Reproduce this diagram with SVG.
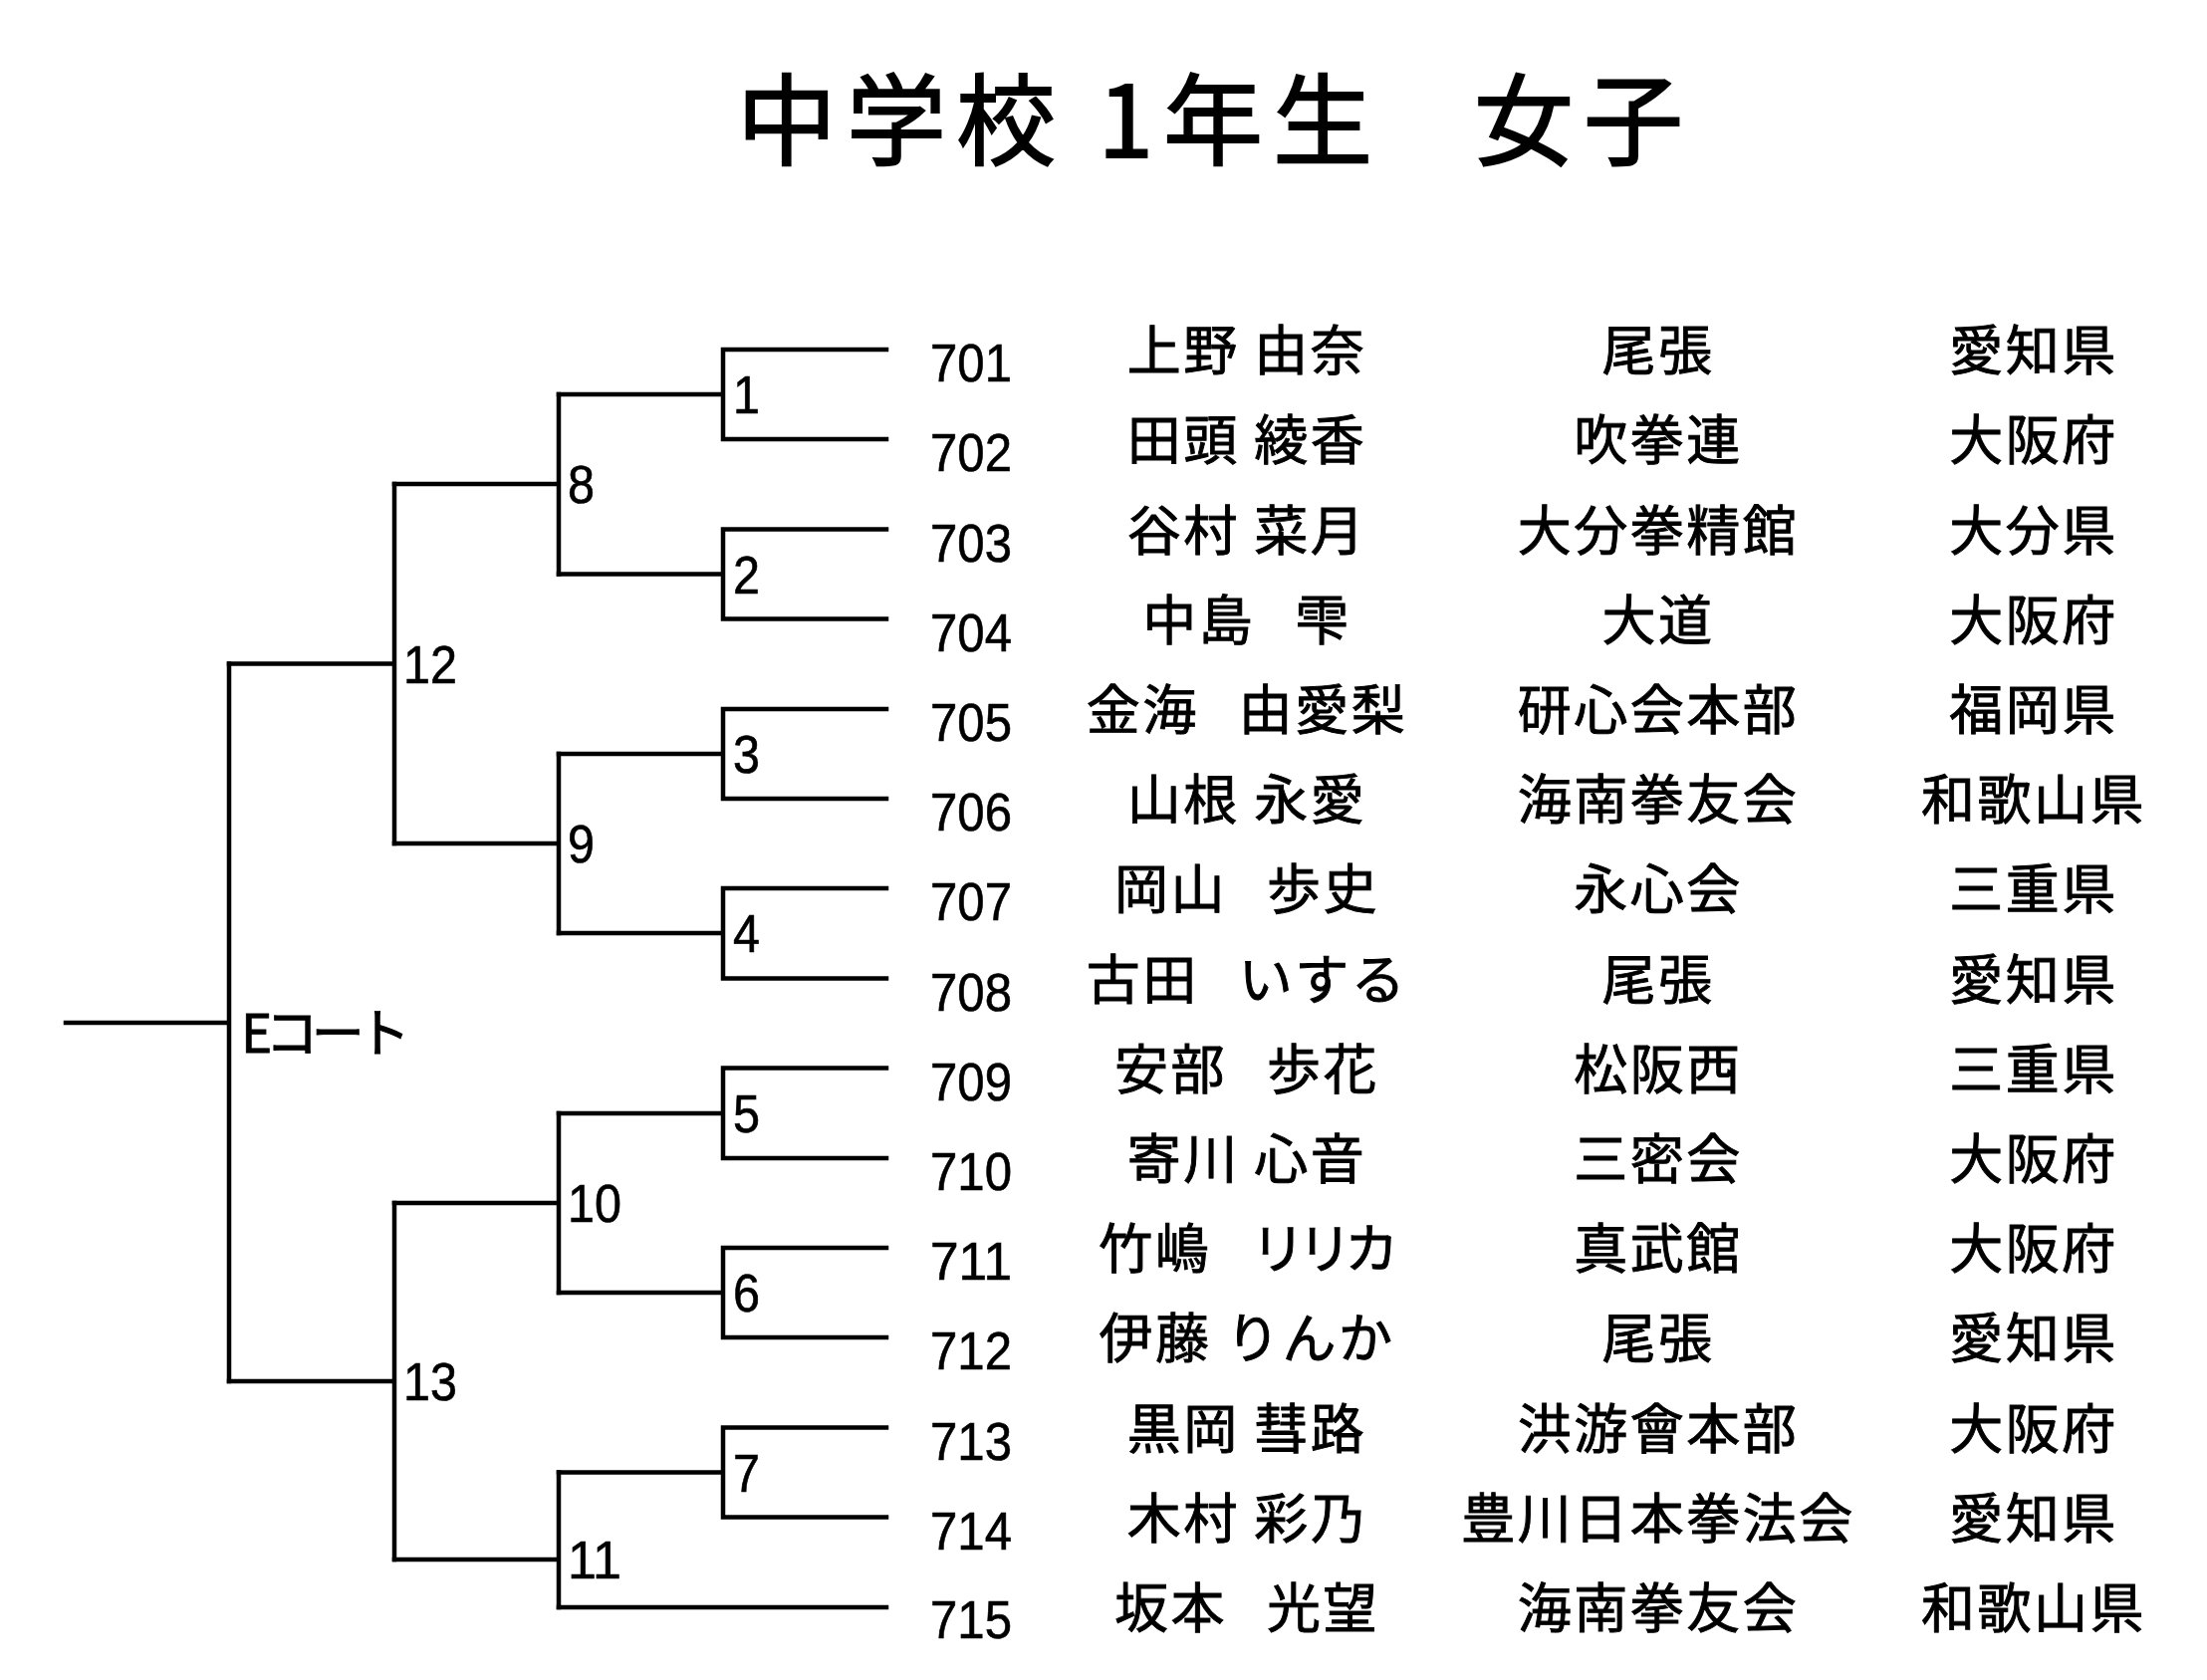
<svg xmlns="http://www.w3.org/2000/svg" width="2216" height="1687" viewBox="0 0 2216 1687">
<style>
.ln{fill:none;stroke:#000;stroke-width:4.5;stroke-linecap:square;stroke-linejoin:miter}
.num{font-family:"Liberation Sans",Arial,sans-serif;font-size:53px;fill:#000;stroke:#000;stroke-width:0.6px}
.jp{font-family:"Noto Sans CJK JP",sans-serif;font-size:54px;letter-spacing:2.5px;text-anchor:middle;fill:#000;stroke:#000;stroke-width:0.9px}
.fs{letter-spacing:-14px}
.title{font-family:"Noto Sans CJK JP",sans-serif;font-size:100px;letter-spacing:10px;fill:#000;stroke:#000;stroke-width:1.8px}
.court{font-family:"Noto Sans CJK JP",sans-serif;font-size:53px;fill:#000;stroke:#000;stroke-width:0.9px}
</style>
<rect width="2216" height="1687" fill="#fff"/>
<g id="title"><text class="title" x="740" y="158" xml:space="preserve">中学校 1年生<tspan letter-spacing="-8px">　</tspan>女子</text></g>
<g id="connectors">
<path class="ln" d="M890,351 H726 V441 H890 M726,396 H561"/>
<path class="ln" d="M890,531.5 H726 V621.5 H890 M726,576.5 H561"/>
<path class="ln" d="M890,712 H726 V802 H890 M726,757 H561"/>
<path class="ln" d="M890,892 H726 V982.5 H890 M726,937 H561"/>
<path class="ln" d="M890,1072.5 H726 V1163 H890 M726,1118 H561"/>
<path class="ln" d="M890,1253 H726 V1343 H890 M726,1298 H561"/>
<path class="ln" d="M890,1433.5 H726 V1523.5 H890 M726,1478.5 H561"/>
<path class="ln" d="M890,1614 H561"/>
<path class="ln" d="M561,396 V576.5 M561,486 H396"/>
<path class="ln" d="M561,757 V937 M561,847 H396"/>
<path class="ln" d="M561,1118 V1298 M561,1208 H396"/>
<path class="ln" d="M561,1478.5 V1614 M561,1566 H396"/>
<path class="ln" d="M396,486 V847 M396,666.5 H230"/>
<path class="ln" d="M396,1208 V1566 M396,1387 H230"/>
<path class="ln" d="M230,666.5 V1387 M230,1027 H66"/>
</g>
<g id="m1"><text class="num" x="736" y="415" textLength="27" lengthAdjust="spacingAndGlyphs">1</text></g>
<g id="m2"><text class="num" x="736" y="595.5" textLength="27" lengthAdjust="spacingAndGlyphs">2</text></g>
<g id="m3"><text class="num" x="736" y="776" textLength="27" lengthAdjust="spacingAndGlyphs">3</text></g>
<g id="m4"><text class="num" x="736" y="956" textLength="27" lengthAdjust="spacingAndGlyphs">4</text></g>
<g id="m5"><text class="num" x="736" y="1137" textLength="27" lengthAdjust="spacingAndGlyphs">5</text></g>
<g id="m6"><text class="num" x="736" y="1317" textLength="27" lengthAdjust="spacingAndGlyphs">6</text></g>
<g id="m7"><text class="num" x="736" y="1497.5" textLength="27" lengthAdjust="spacingAndGlyphs">7</text></g>
<g id="m8"><text class="num" x="570" y="505" textLength="27" lengthAdjust="spacingAndGlyphs">8</text></g>
<g id="m9"><text class="num" x="570" y="866" textLength="27" lengthAdjust="spacingAndGlyphs">9</text></g>
<g id="m10"><text class="num" x="570" y="1227" textLength="54" lengthAdjust="spacingAndGlyphs">10</text></g>
<g id="m11"><text class="num" x="570" y="1585" textLength="54" lengthAdjust="spacingAndGlyphs">11</text></g>
<g id="m12"><text class="num" x="405" y="685.5" textLength="54" lengthAdjust="spacingAndGlyphs">12</text></g>
<g id="m13"><text class="num" x="405" y="1406" textLength="54" lengthAdjust="spacingAndGlyphs">13</text></g>
<g id="court"><text class="court" x="242" y="1057" textLength="170" lengthAdjust="spacing">Eコート</text></g>
<g id="p701"><text class="num" x="934" y="383" textLength="82" lengthAdjust="spacingAndGlyphs">701</text><text class="jp" x="1252" y="372">上野 由奈</text><text class="jp" x="1665" y="372">尾張</text><text class="jp" x="2042" y="372">愛知県</text></g>
<g id="p702"><text class="num" x="934" y="473" textLength="82" lengthAdjust="spacingAndGlyphs">702</text><text class="jp" x="1252" y="462">田頭 綾香</text><text class="jp" x="1665" y="462">吹拳連</text><text class="jp" x="2042" y="462">大阪府</text></g>
<g id="p703"><text class="num" x="934" y="563.5" textLength="82" lengthAdjust="spacingAndGlyphs">703</text><text class="jp" x="1252" y="552.5">谷村 菜月</text><text class="jp" x="1665" y="552.5">大分拳精館</text><text class="jp" x="2042" y="552.5">大分県</text></g>
<g id="p704"><text class="num" x="934" y="653.5" textLength="82" lengthAdjust="spacingAndGlyphs">704</text><text class="jp" x="1252" y="642.5">中島<tspan class="fs">　</tspan>雫</text><text class="jp" x="1665" y="642.5">大道</text><text class="jp" x="2042" y="642.5">大阪府</text></g>
<g id="p705"><text class="num" x="934" y="744" textLength="82" lengthAdjust="spacingAndGlyphs">705</text><text class="jp" x="1252" y="733">金海<tspan class="fs">　</tspan>由愛梨</text><text class="jp" x="1665" y="733">研心会本部</text><text class="jp" x="2042" y="733">福岡県</text></g>
<g id="p706"><text class="num" x="934" y="834" textLength="82" lengthAdjust="spacingAndGlyphs">706</text><text class="jp" x="1252" y="823">山根 永愛</text><text class="jp" x="1665" y="823">海南拳友会</text><text class="jp" x="2042" y="823">和歌山県</text></g>
<g id="p707"><text class="num" x="934" y="924" textLength="82" lengthAdjust="spacingAndGlyphs">707</text><text class="jp" x="1252" y="913">岡山<tspan class="fs">　</tspan>歩史</text><text class="jp" x="1665" y="913">永心会</text><text class="jp" x="2042" y="913">三重県</text></g>
<g id="p708"><text class="num" x="934" y="1014.5" textLength="82" lengthAdjust="spacingAndGlyphs">708</text><text class="jp" x="1252" y="1003.5">古田<tspan class="fs">　</tspan>いする</text><text class="jp" x="1665" y="1003.5">尾張</text><text class="jp" x="2042" y="1003.5">愛知県</text></g>
<g id="p709"><text class="num" x="934" y="1104.5" textLength="82" lengthAdjust="spacingAndGlyphs">709</text><text class="jp" x="1252" y="1093.5">安部<tspan class="fs">　</tspan>歩花</text><text class="jp" x="1665" y="1093.5">松阪西</text><text class="jp" x="2042" y="1093.5">三重県</text></g>
<g id="p710"><text class="num" x="934" y="1195" textLength="82" lengthAdjust="spacingAndGlyphs">710</text><text class="jp" x="1252" y="1184">寄川 心音</text><text class="jp" x="1665" y="1184">三密会</text><text class="jp" x="2042" y="1184">大阪府</text></g>
<g id="p711"><text class="num" x="934" y="1285" textLength="82" lengthAdjust="spacingAndGlyphs">711</text><text class="jp" x="1255" y="1274">竹嶋<tspan class="fs">　</tspan><tspan letter-spacing="-7px">リリ</tspan>カ</text><text class="jp" x="1665" y="1274">真武館</text><text class="jp" x="2042" y="1274">大阪府</text></g>
<g id="p712"><text class="num" x="934" y="1375" textLength="82" lengthAdjust="spacingAndGlyphs">712</text><text class="jp" x="1252" y="1364">伊藤 りんか</text><text class="jp" x="1665" y="1364">尾張</text><text class="jp" x="2042" y="1364">愛知県</text></g>
<g id="p713"><text class="num" x="934" y="1465.5" textLength="82" lengthAdjust="spacingAndGlyphs">713</text><text class="jp" x="1252" y="1454.5">黒岡 彗路</text><text class="jp" x="1665" y="1454.5">洪游會本部</text><text class="jp" x="2042" y="1454.5">大阪府</text></g>
<g id="p714"><text class="num" x="934" y="1555.5" textLength="82" lengthAdjust="spacingAndGlyphs">714</text><text class="jp" x="1252" y="1544.5">木村 彩乃</text><text class="jp" x="1665" y="1544.5">豊川日本拳法会</text><text class="jp" x="2042" y="1544.5">愛知県</text></g>
<g id="p715"><text class="num" x="934" y="1645" textLength="82" lengthAdjust="spacingAndGlyphs">715</text><text class="jp" x="1252" y="1635">坂本<tspan class="fs">　</tspan>光望</text><text class="jp" x="1665" y="1635">海南拳友会</text><text class="jp" x="2042" y="1635">和歌山県</text></g>
</svg>
